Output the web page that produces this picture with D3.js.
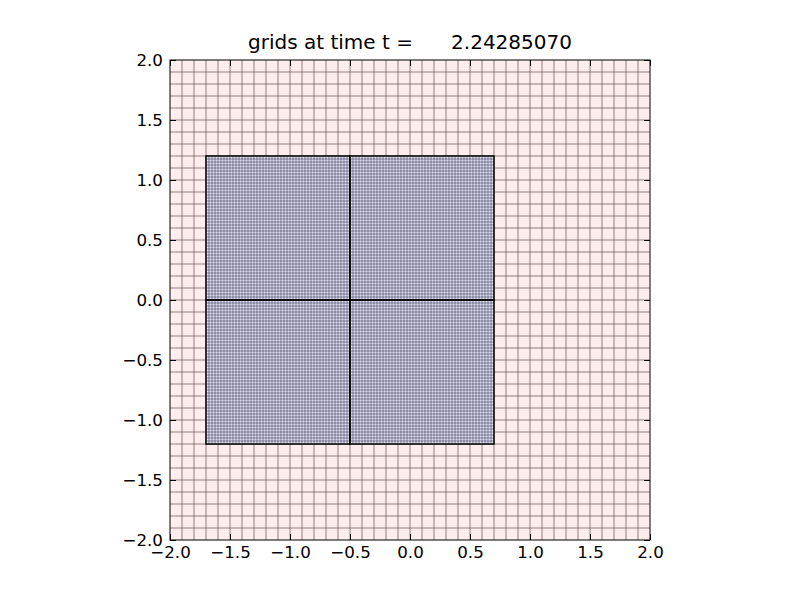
<!DOCTYPE html>
<html>
<head>
<meta charset="utf-8">
<script src="https://cdn.jsdelivr.net/npm/d3@7"></script>
<style>
  body { margin: 0; background: #fff; }
  text { font-family: "DejaVu Sans", sans-serif; }
</style>
</head>
<body>
<script>
// данные сетки
const titleText = 'grids at time t =      2.24285070';
const domainX = [-2, 2];
const domainY = [-2, 2];
const coarseCells = [40, 40];          // уровень 1: число ячеек по x и y
const patchX0 = [-1.7, -0.5, -1.7, -0.5];
const patchX1 = [-0.5, 0.7, -0.5, 0.7];
const patchY0 = [0, 0, -1.2, -1.2];
const patchY1 = [1.2, 1.2, 0, 0];
const patchCells = [48, 48, 48, 48];   // уровень 2: ячеек на сторону патча
const tickValues = [-2.0, -1.5, -1.0, -0.5, 0.0, 0.5, 1.0, 1.5, 2.0];

const width = 800, height = 600;
const mLeft = 170, mRight = 650, mTop = 60, mBottom = 540;

const x = d3.scaleLinear().domain(domainX).range([mLeft, mRight]);
const y = d3.scaleLinear().domain(domainY).range([mBottom, mTop]);

const svg = d3.select('body').append('svg')
  .attr('width', width)
  .attr('height', height);

// грубая сетка
const coarse = svg.append('g');
coarse.append('rect')
  .attr('x', x(domainX[0])).attr('y', y(domainY[1]))
  .attr('width', x(domainX[1]) - x(domainX[0]))
  .attr('height', y(domainY[0]) - y(domainY[1]))
  .attr('fill', '#ffeded');
const cdx = (domainX[1] - domainX[0]) / coarseCells[0];
const cdy = (domainY[1] - domainY[0]) / coarseCells[1];
coarse.selectAll('line.v')
  .data(d3.range(1, coarseCells[0]).map(i => domainX[0] + i * cdx))
  .enter().append('line')
  .attr('x1', d => Math.round(x(d))).attr('x2', d => Math.round(x(d)))
  .attr('y1', y(domainY[0])).attr('y2', y(domainY[1]))
  .attr('stroke', '#3a2626').attr('stroke-opacity', 0.55).attr('stroke-width', 1);
coarse.selectAll('line.h')
  .data(d3.range(1, coarseCells[1]).map(j => domainY[0] + j * cdy))
  .enter().append('line')
  .attr('y1', d => Math.round(y(d))).attr('y2', d => Math.round(y(d)))
  .attr('x1', x(domainX[0])).attr('x2', x(domainX[1]))
  .attr('stroke', '#3a2626').attr('stroke-opacity', 0.55).attr('stroke-width', 1);

// тонкие сетки (патчи)
const patches = patchX0.map((d, i) => ({
  x0: d, x1: patchX1[i], y0: patchY0[i], y1: patchY1[i], n: patchCells[i]
}));
const fine = svg.append('g');
patches.forEach(p => {
  const g = fine.append('g');
  g.append('rect')
    .attr('x', x(p.x0)).attr('y', y(p.y1))
    .attr('width', x(p.x1) - x(p.x0))
    .attr('height', y(p.y0) - y(p.y1))
    .attr('fill', '#e2e2f2');
  const dx = (p.x1 - p.x0) / p.n, dy = (p.y1 - p.y0) / p.n;
  g.selectAll('line.v')
    .data(d3.range(1, p.n).map(i => p.x0 + i * dx))
    .enter().append('line')
    .attr('x1', d => x(d)).attr('x2', d => x(d))
    .attr('y1', y(p.y0)).attr('y2', y(p.y1))
    .attr('stroke', '#26264a').attr('stroke-opacity', 0.5).attr('stroke-width', 1);
  g.selectAll('line.h')
    .data(d3.range(1, p.n).map(j => p.y0 + j * dy))
    .enter().append('line')
    .attr('y1', d => y(d)).attr('y2', d => y(d))
    .attr('x1', x(p.x0)).attr('x2', x(p.x1))
    .attr('stroke', '#26264a').attr('stroke-opacity', 0.5).attr('stroke-width', 1);
});
// границы патчей
fine.selectAll('rect.border')
  .data(patches)
  .enter().append('rect')
  .attr('x', d => x(d.x0)).attr('y', d => y(d.y1))
  .attr('width', d => x(d.x1) - x(d.x0))
  .attr('height', d => y(d.y0) - y(d.y1))
  .attr('fill', 'none').attr('stroke', '#000').attr('stroke-width', 1.5);

// оси: тики внутрь, со всех сторон
const fmt = d => d3.format('.1f')(d).replace('-', '\u2212');
const tickLen = 6;
const axB = d3.axisBottom(x).tickValues(tickValues).tickSizeInner(-tickLen).tickSizeOuter(0).tickPadding(6).tickFormat(fmt);
const axL = d3.axisLeft(y).tickValues(tickValues).tickSizeInner(-tickLen).tickSizeOuter(0).tickPadding(7).tickFormat(fmt);
const axT = d3.axisTop(x).tickValues(tickValues).tickSizeInner(-tickLen).tickSizeOuter(0).tickFormat('');
const axR = d3.axisRight(y).tickValues(tickValues).tickSizeInner(-tickLen).tickSizeOuter(0).tickFormat('');

function styleAxis(g) {
  g.select('.domain').remove();
  g.selectAll('line').attr('stroke', '#000').attr('stroke-width', 1);
  g.selectAll('text').attr('fill', '#000').style('font-size', '16.7px')
    .style('font-family', '"DejaVu Sans", sans-serif');
}
svg.append('g').attr('transform', `translate(0,${mBottom})`).call(axB).call(styleAxis);
svg.append('g').attr('transform', `translate(${mLeft},0)`).call(axL).call(styleAxis);
svg.append('g').attr('transform', `translate(0,${mTop})`).call(axT).call(styleAxis);
svg.append('g').attr('transform', `translate(${mRight},0)`).call(axR).call(styleAxis);

// рамка
svg.append('rect')
  .attr('x', mLeft).attr('y', mTop)
  .attr('width', mRight - mLeft).attr('height', mBottom - mTop)
  .attr('fill', 'none').attr('stroke', '#000').attr('stroke-width', 1);

// заголовок
svg.append('text')
  .attr('x', (mLeft + mRight) / 2).attr('y', 49)
  .attr('text-anchor', 'middle')
  .style('font-size', '20px')
  .style('white-space', 'pre')
  .attr('xml:space', 'preserve')
  .text(titleText);
</script>
</body>
</html>
